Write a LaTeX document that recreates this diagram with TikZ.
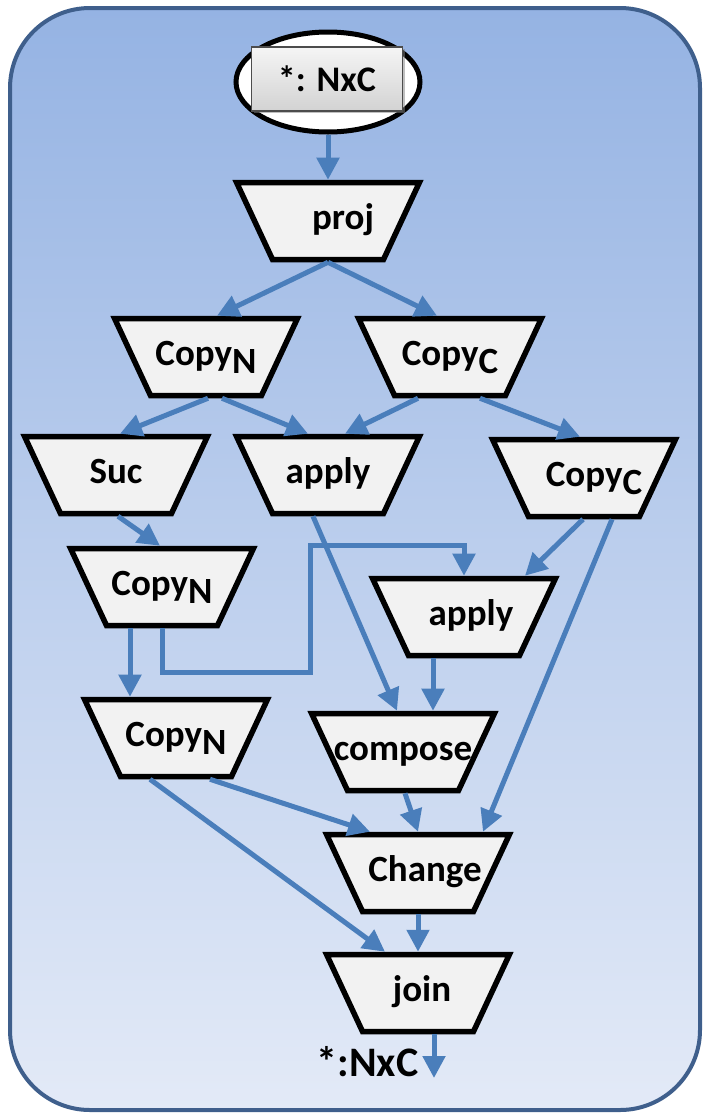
\documentclass[tikz,border=0pt]{standalone}
\usepackage{fontspec}
\setmainfont{Carlito}
\usetikzlibrary{shapes.geometric,arrows.meta,shadows}
\definecolor{flowblue}{HTML}{4A7EBB}
\definecolor{bgtop}{HTML}{95B3E3}
\definecolor{bgbot}{HTML}{E3EAF7}
\definecolor{frameblue}{HTML}{3F5F8C}
\definecolor{boxgray}{HTML}{F2F2F2}
\newcommand{\op}[1]{\makebox[0pt]{#1}}
\newcommand{\lowsub}[1]{\raisebox{-0.45ex}{#1}}
\tikzset{
  opnode/.style = {trapezium, shape border rotate=180, trapezium angle=65,
    draw=black, line width=5.5pt, fill=boxgray,
    text height=24pt, text depth=8pt, inner ysep=22.5pt, inner xsep=55.5pt,
    font=\fontsize{37}{40}\selectfont\bfseries},
  flow/.style = {draw=flowblue, line width=5pt, -{Triangle[length=22pt,width=22pt]}},
  inbox/.style = {rectangle, draw=black!70, line width=1.2pt, top color=gray!8,
    bottom color=gray!35, minimum width=151pt, minimum height=64pt,
    font=\fontsize{36}{38}\selectfont\bfseries, drop shadow}
}
\begin{document}
\begin{tikzpicture}[x=1pt,y=-1pt]
\useasboundingbox (0,0) rectangle (703,1114);
% frame
\shade[top color=bgtop, bottom color=bgbot, rounded corners=80pt] (10,8) rectangle (700,1110);
\draw[frameblue, line width=4pt, rounded corners=80pt] (10,8) rectangle (700,1110);

% input
\node [ellipse, draw=black, line width=5pt, fill=white, minimum width=184pt,
  minimum height=100pt] (startE) at (328,82) {};
\node [inbox] (startR) at (327,79) {*: NxC};

% operators
\node [opnode] (proj) at (328,221) {\op{\hspace{30pt}proj}};
\node [opnode] (copyNa) at (206,357) {\op{Copy\lowsub{N}}};
\node [opnode] (copyCa) at (450,357) {\op{Copy\lowsub{C}}};
\node [opnode] (suc) at (116,475) {\op{Suc}};
\node [opnode] (applyA) at (328,475) {\op{apply}};
\node [opnode] (copyCb) at (584,478) {\op{\hspace{20pt}Copy\lowsub{C}}};
\node [opnode] (copyNb) at (162,587) {\op{Copy\lowsub{N}}};
\node [opnode] (applyB) at (464,617) {\op{\hspace{14pt}apply}};
\node [opnode] (copyNc) at (176,738) {\op{Copy\lowsub{N}}};
\node [opnode] (compose) at (403,752) {\op{compose}};
\node [opnode] (change) at (418,873) {\op{\hspace{14pt}Change}};
\node [opnode] (join) at (418,993) {\op{\hspace{8pt}join}};

\coordinate (bendA) at (310,672);
\coordinate (bendB) at (310,545);
\coordinate (outpt) at (434,1078);
\node [font=\fontsize{42}{44}\selectfont\bfseries, anchor=east] (outlbl) at (422,1062) {*:NxC};

% connectors
\draw[flow] (startE.south) -- (proj.north);
\draw[flow] (proj.south) -- ([xshift=11pt]copyNa.north);
\draw[flow] (proj.south) -- ([xshift=-13pt]copyCa.north);
\draw[flow] ([xshift=2pt]copyNa.south) -- ([xshift=4pt]suc.north);
\draw[flow] ([xshift=16pt]copyNa.south) -- ([xshift=-20pt]applyA.north);
\draw[flow] ([xshift=-32pt]copyCa.south) -- ([xshift=17pt]applyA.north);
\draw[flow] ([xshift=30pt]copyCa.south) -- ([xshift=-4pt]copyCb.north);
\draw[flow] ([xshift=2pt]suc.south) -- ([xshift=-2pt]copyNb.north);
\draw[flow] ([xshift=-1pt]copyCb.south) -- ([xshift=61pt]applyB.north);
\draw[flow] (copyNb.south) |- (bendA) -- (bendB) -| (applyB.north);
\draw[flow] ([xshift=-32pt]copyNb.south) -- ([xshift=-46pt]copyNc.north);
\draw[flow] ([xshift=-15pt]applyA.south) -- ([xshift=-6pt]compose.north);
\draw[flow] ([xshift=-31pt]applyB.south) -- ([xshift=30pt]compose.north);
\draw[flow] ([xshift=2pt]compose.south) -- (change.north);
\draw[flow] ([xshift=34pt]copyNc.south) -- ([xshift=-48pt]change.north);
\draw[flow] ([xshift=28pt]copyCb.south) -- ([xshift=65pt]change.north);
\draw[flow] (change.south) -- (join.north);
\draw[flow] ([xshift=-26pt]copyNc.south) -- ([xshift=-33pt]join.north);
\draw[flow] ([xshift=16pt]join.south) -- (outpt);
\end{tikzpicture}
\end{document}
